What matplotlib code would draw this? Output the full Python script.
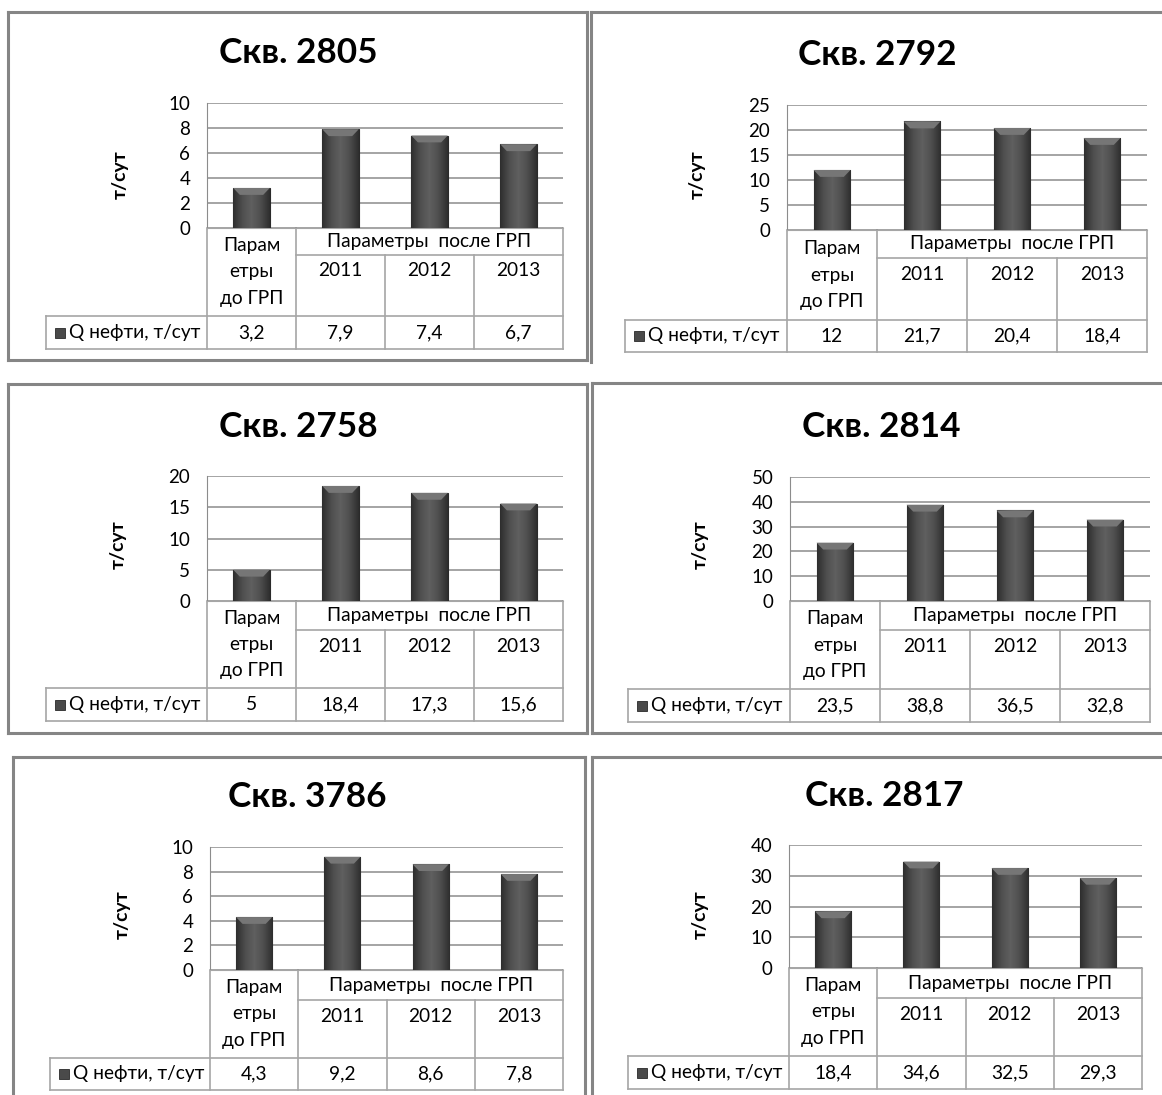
import numpy as np
import matplotlib
matplotlib.use("Agg")
import matplotlib.pyplot as plt
from matplotlib.patches import Polygon, Rectangle
from matplotlib.colors import LinearSegmentedColormap

plt.rcParams['font.family'] = ['Lato', 'Noto Sans', 'DejaVu Sans']

# данные
titles = ["Скв. 2805", "Скв. 2792", "Скв. 2758", "Скв. 2814", "Скв. 3786", "Скв. 2817"]
q_2805 = [3.2, 7.9, 7.4, 6.7]
q_2792 = [12, 21.7, 20.4, 18.4]
q_2758 = [5, 18.4, 17.3, 15.6]
q_2814 = [23.5, 38.8, 36.5, 32.8]
q_3786 = [4.3, 9.2, 8.6, 7.8]
q_2817 = [18.4, 34.6, 32.5, 29.3]
values = [q_2805, q_2792, q_2758, q_2814, q_3786, q_2817]
y_max = [10, 25, 20, 50, 10, 40]
y_step = [2, 5, 5, 10, 2, 10]
years = ["2011", "2012", "2013"]
before_label = "Парам\nетры\nдо ГРП"
after_label = "Параметры  после ГРП"
series_label = "Q нефти, т/сут"
y_label = "т/сут"

W, H = 1162, 1095

# геометрия панелей в пикселях
panels = [
    dict(frame=(8, 12, 587, 360), ax=(207, 563, 103, 228), split=255, dt=316, db=349, lg=46,
         title=(298, 53), ylab=(120, 175), edges="ltrb"),
    dict(frame=(591, 12, 1170, 362), ax=(787, 1147, 105, 230), split=258, dt=320, db=352, lg=625,
         title=(877, 55), ylab=(697, 175), edges="lt"),
    dict(frame=(8, 384, 587, 733), ax=(207, 563, 476, 601), split=630, dt=688, db=721, lg=46,
         title=(298, 427), ylab=(118, 545), edges="ltrb"),
    dict(frame=(592, 383, 1170, 733), ax=(790, 1150, 477, 601), split=630, dt=689, db=722, lg=628,
         title=(881, 427), ylab=(700, 545), edges="ltb"),
    dict(frame=(13, 757, 585, 1100), ax=(210, 563, 847, 970), split=1000, dt=1058, db=1090, lg=50,
         title=(307, 797), ylab=(122, 915), edges="ltr"),
    dict(frame=(592, 757, 1170, 1100), ax=(789, 1142, 845, 968), split=998, dt=1056, db=1089, lg=628,
         title=(884, 796), ylab=(700, 915), edges="lt"),
]

bar_cmap = LinearSegmentedColormap.from_list(
    "bar", ["#2e2e2e", "#4e4e4e", "#606060", "#4e4e4e", "#2e2e2e"])
line_c = "#a6a6a6"
frame_c = "#858585"
fs = 13.8


def fmt(v):
    return f"{v:g}".replace(".", ",")


fig = plt.figure(figsize=(W / 100, H / 100), dpi=100)
canvas = fig.add_axes([0, 0, 1, 1])
canvas.set_xlim(0, W)
canvas.set_ylim(H, 0)
canvas.axis("off")

grad = np.linspace(0, 1, 64).reshape(1, -1)

for p, title, vals, ymax, ystep in zip(panels, titles, values, y_max, y_step):
    fl, ft, fr, fb = p["frame"]
    e = p["edges"]
    kw = dict(color=frame_c, lw=2.2, solid_capstyle="projecting")
    if "l" in e:
        canvas.plot([fl, fl], [ft, fb], **kw)
    if "t" in e:
        canvas.plot([fl, fr], [ft, ft], **kw)
    if "r" in e:
        canvas.plot([fr, fr], [ft, fb], **kw)
    if "b" in e:
        canvas.plot([fl, fr], [fb, fb], **kw)

    L, R, T, B = p["ax"]
    ax = fig.add_axes([L / W, 1 - B / H, (R - L) / W, (B - T) / H])
    ax.set_facecolor("none")
    x = np.arange(len(vals))
    bars = ax.bar(x, vals, width=0.41, color="#4c4c4c", edgecolor="#2a2a2a", lw=0.8, zorder=3)
    bevel = ymax * 0.055
    for b in bars:
        x0, w, h = b.get_x(), b.get_width(), b.get_height()
        im = ax.imshow(grad, cmap=bar_cmap, extent=(x0, x0 + w, 0, h), aspect="auto", zorder=3)
        im.set_clip_path(b)
        ax.add_patch(Polygon([(x0, h), (x0 + w, h), (x0 + w * 0.82, h - bevel),
                              (x0 + w * 0.18, h - bevel)], closed=True,
                             facecolor="#767676", edgecolor="none", zorder=4))
    ax.set_xlim(-0.5, 3.5)
    ax.set_ylim(0, ymax)
    ax.set_yticks(np.arange(0, ymax + ystep, ystep))
    ax.set_xticks([])
    ax.tick_params(axis="y", length=0, pad=12, labelsize=13.5)
    ax.grid(axis="y", color="#8c8c8c", lw=1.1, zorder=0)
    for s in ["top", "right"]:
        ax.spines[s].set_visible(False)
    ax.spines["left"].set_color("#8c8c8c")
    ax.spines["bottom"].set_color(line_c)

    # заголовок и подпись оси
    canvas.text(p["title"][0], p["title"][1], title, fontsize=25.3, fontweight="bold",
                ha="center", va="center")
    canvas.text(p["ylab"][0], p["ylab"][1], y_label, fontsize=14, fontweight="bold",
                rotation=90, ha="center", va="center")

    # таблица данных
    c = np.linspace(L, R, 5)
    sp, dt, db, lg = p["split"], p["dt"], p["db"], p["lg"]
    lk = dict(color=line_c, lw=1.2)
    for xc in (c[0], c[1], c[4]):
        canvas.plot([xc, xc], [B, db], **lk)
    for xc in (c[2], c[3]):
        canvas.plot([xc, xc], [sp, db], **lk)
    canvas.plot([c[1], c[4]], [sp, sp], **lk)
    canvas.plot([lg, c[4]], [dt, dt], **lk)
    canvas.plot([lg, c[4]], [db, db], **lk)
    canvas.plot([lg, lg], [dt, db], **lk)

    mid = (c[:-1] + c[1:]) / 2
    canvas.text(mid[0], (B + dt) / 2, before_label, fontsize=fs, ha="center", va="center",
                linespacing=1.66)
    canvas.text((c[1] + c[4]) / 2, (B + sp) / 2, after_label, fontsize=fs, ha="center", va="center")
    for xm, yr in zip(mid[1:], years):
        canvas.text(xm, sp + 16, yr, fontsize=fs, ha="center", va="center")
    yc = (dt + db) / 2
    for xm, v in zip(mid, vals):
        canvas.text(xm, yc, fmt(v), fontsize=fs, ha="center", va="center")
    canvas.add_patch(Rectangle((lg + 9, yc - 5), 10, 10, facecolor="#4a4a4a", edgecolor="#2a2a2a", lw=0.6))
    canvas.text(lg + 23, yc, series_label, fontsize=fs, ha="left", va="center")

fig.savefig("out.png", dpi=100)
